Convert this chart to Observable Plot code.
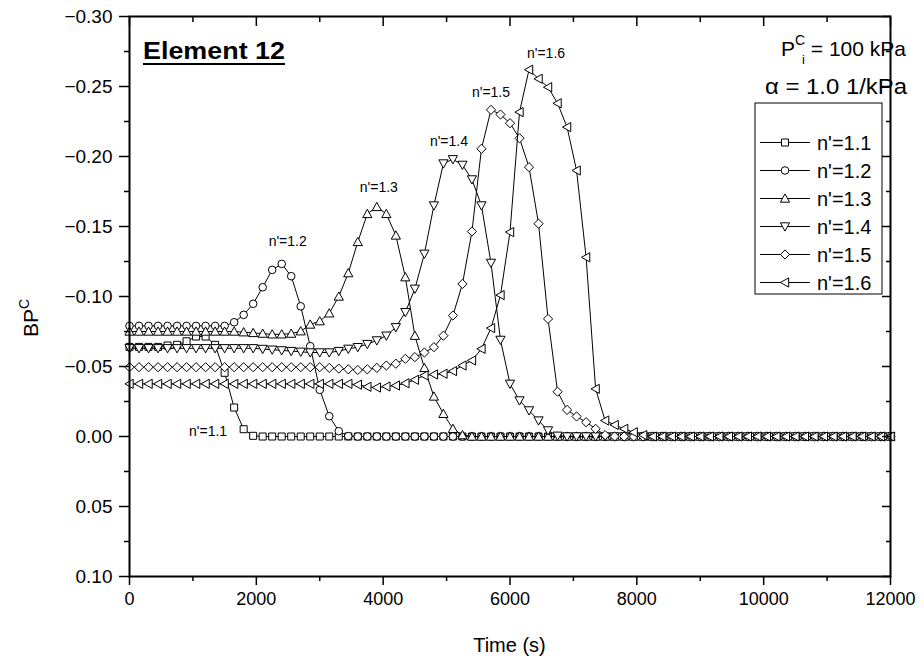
<!DOCTYPE html>
<html>
<head>
<meta charset="utf-8">
<script src="https://cdn.jsdelivr.net/npm/d3@7"></script>
<script src="https://cdn.jsdelivr.net/npm/@observablehq/plot@0.6"></script>
<style>
  body { margin: 0; background: #fff; }
  #chart { width: 924px; height: 668px; }
  svg { font-family: "Liberation Sans", Arial, Helvetica, sans-serif; }
</style>
</head>
<body>
<div id="chart"></div>
<script>
// Sampling grid of the simulation output (s)
const time = d3.range(0, 12001, 150);

const seriesNames = ["n'=1.1", "n'=1.2", "n'=1.3", "n'=1.4", "n'=1.5", "n'=1.6"];

// BP^C values for each n' (one value per time step)
const bp11 = [
  -0.064, -0.064, -0.064, -0.064, -0.065, -0.0655, -0.068, -0.0714, -0.0714, -0.0655,
  -0.0455, -0.0207, -0.0052, -0.0005, 0, 0, 0, 0, 0, 0,
  0, 0, 0, 0, 0, 0, 0, 0, 0, 0,
  0, 0, 0, 0, 0, 0, 0, 0, 0, 0,
  0, 0, 0, 0, 0, 0, 0, 0, 0, 0,
  0, 0, 0, 0, 0, 0, 0, 0, 0, 0,
  0, 0, 0, 0, 0, 0, 0, 0, 0, 0,
  0, 0, 0, 0, 0, 0, 0, 0, 0, 0,
  0
];
const bp12 = [
  -0.079, -0.079, -0.079, -0.079, -0.079, -0.079, -0.079, -0.079, -0.079, -0.079,
  -0.079, -0.0816, -0.0869, -0.0948, -0.1066, -0.119, -0.1233, -0.1145, -0.093, -0.0645,
  -0.0333, -0.0145, -0.0038, -0.0003, 0, 0, 0, 0, 0, 0,
  0, 0, 0, 0, 0, 0, 0, 0, 0, 0,
  0, 0, 0, 0, 0, 0, 0, 0, 0, 0,
  0, 0, 0, 0, 0, 0, 0, 0, 0, 0,
  0, 0, 0, 0, 0, 0, 0, 0, 0, 0,
  0, 0, 0, 0, 0, 0, 0, 0, 0, 0,
  0
];
const bp13 = [
  -0.075, -0.075, -0.075, -0.075, -0.075, -0.075, -0.075, -0.075, -0.075, -0.075,
  -0.075, -0.075, -0.0745, -0.074, -0.0735, -0.073, -0.073, -0.0735, -0.0752, -0.080,
  -0.0824, -0.088, -0.100, -0.1167, -0.139, -0.159, -0.164, -0.159, -0.1436, -0.1138,
  -0.072, -0.049, -0.0286, -0.0162, -0.0055, -0.001, 0, 0, 0, 0,
  0, 0, 0, 0, 0, 0, 0, 0, 0, 0,
  0, 0, 0, 0, 0, 0, 0, 0, 0, 0,
  0, 0, 0, 0, 0, 0, 0, 0, 0, 0,
  0, 0, 0, 0, 0, 0, 0, 0, 0, 0,
  0
];
const bp14 = [
  -0.063, -0.063, -0.063, -0.063, -0.063, -0.063, -0.063, -0.063, -0.063, -0.063,
  -0.063, -0.063, -0.063, -0.063, -0.0625, -0.062, -0.0615, -0.061, -0.0605, -0.060,
  -0.060, -0.060, -0.061, -0.0626, -0.0638, -0.066, -0.0686, -0.072, -0.078, -0.0888,
  -0.1055, -0.1305, -0.165, -0.195, -0.198, -0.194, -0.1836, -0.165, -0.124, -0.069,
  -0.0376, -0.0257, -0.0186, -0.0114, -0.0043, -0.0005, 0, 0, 0, 0,
  0, 0, 0, 0, 0, 0, 0, 0, 0, 0,
  0, 0, 0, 0, 0, 0, 0, 0, 0, 0,
  0, 0, 0, 0, 0, 0, 0, 0, 0, 0,
  0
];
const bp15 = [
  -0.0495, -0.0495, -0.0495, -0.0495, -0.0495, -0.0495, -0.0495, -0.0495, -0.0495, -0.0495,
  -0.0495, -0.0495, -0.0495, -0.0495, -0.0495, -0.0495, -0.0495, -0.0495, -0.0495, -0.0495,
  -0.0495, -0.049, -0.0485, -0.048, -0.0475, -0.048, -0.049, -0.0507, -0.052, -0.0555,
  -0.0567, -0.060, -0.0638, -0.072, -0.0864, -0.109, -0.1464, -0.2055, -0.2333, -0.230,
  -0.2238, -0.213, -0.1924, -0.152, -0.084, -0.032, -0.019, -0.0143, -0.0102, -0.0055,
  -0.001, 0, 0, 0, 0, 0, 0, 0, 0, 0,
  0, 0, 0, 0, 0, 0, 0, 0, 0, 0,
  0, 0, 0, 0, 0, 0, 0, 0, 0, 0,
  0
];
const bp16 = [
  -0.0376, -0.0376, -0.0376, -0.0376, -0.0376, -0.0376, -0.0376, -0.0376, -0.0376, -0.0376,
  -0.0376, -0.0376, -0.0376, -0.0376, -0.0376, -0.0376, -0.0376, -0.0376, -0.0376, -0.0376,
  -0.0376, -0.0376, -0.0376, -0.0376, -0.037, -0.0355, -0.035, -0.0357, -0.0364, -0.038,
  -0.0405, -0.0436, -0.0443, -0.0448, -0.0467, -0.0507, -0.0543, -0.0626, -0.0774, -0.101,
  -0.146, -0.2317, -0.262, -0.2555, -0.2495, -0.238, -0.221, -0.19, -0.128, -0.034,
  -0.0114, -0.0083, -0.0055, -0.003, -0.001, 0, 0, 0, 0, 0,
  0, 0, 0, 0, 0, 0, 0, 0, 0, 0,
  0, 0, 0, 0, 0, 0, 0, 0, 0, 0,
  0
];

// Axis ticks
const xTicks = [0, 2000, 4000, 6000, 8000, 10000, 12000];
const xMinorTicks = [1000, 3000, 5000, 7000, 9000, 11000];
const yTicks = [-0.30, -0.25, -0.20, -0.15, -0.10, -0.05, 0.00, 0.05, 0.10];
const yMinorTicks = [-0.275, -0.225, -0.175, -0.125, -0.075, -0.025, 0.025, 0.075];

// Open marker shapes (radius derived from the symbol area)
const rad = size => Math.sqrt(size / Math.PI);
const symSquare = { draw(c, s) { const r = rad(s); c.moveTo(-r, -r); c.lineTo(r, -r); c.lineTo(r, r); c.lineTo(-r, r); c.closePath(); } };
const symCircle = { draw(c, s) { const r = rad(s); c.moveTo(r, 0); c.arc(0, 0, r, 0, 2 * Math.PI); c.closePath(); } };
const symTriUp = { draw(c, s) { const r = rad(s); c.moveTo(0, -r); c.lineTo(r, r * 0.8); c.lineTo(-r, r * 0.8); c.closePath(); } };
const symTriDown = { draw(c, s) { const r = rad(s); c.moveTo(0, r); c.lineTo(r, -r * 0.8); c.lineTo(-r, -r * 0.8); c.closePath(); } };
const symDiamond = { draw(c, s) { const r = rad(s); c.moveTo(0, -r); c.lineTo(r, 0); c.lineTo(0, r); c.lineTo(-r, 0); c.closePath(); } };
const symTriLeft = { draw(c, s) { const r = rad(s); c.moveTo(-r, 0); c.lineTo(r * 0.8, -r); c.lineTo(r * 0.8, r); c.closePath(); } };

const series = [
  { name: seriesNames[0], values: bp11, symbol: symSquare, r: 3.5, label: { dx: -26, dy: -4, anchor: "end", at: "drop" } },
  { name: seriesNames[1], values: bp12, symbol: symCircle, r: 3.8, label: { dx: 6, dy: -22, anchor: "middle", at: "peak" } },
  { name: seriesNames[2], values: bp13, symbol: symTriUp, r: 4.6, label: { dx: 2, dy: -19, anchor: "middle", at: "peak" } },
  { name: seriesNames[3], values: bp14, symbol: symTriDown, r: 4.6, label: { dx: -4, dy: -18, anchor: "middle", at: "peak" } },
  { name: seriesNames[4], values: bp15, symbol: symDiamond, r: 4.6, label: { dx: 0, dy: -17, anchor: "middle", at: "peak" } },
  { name: seriesNames[5], values: bp16, symbol: symTriLeft, r: 4.6, label: { dx: 17, dy: -16, anchor: "middle", at: "peak" } }
];

const marks = [];
for (const s of series) {
  const data = time.map((t, i) => ({ t, v: s.values[i] }));
  marks.push(Plot.line(data, { x: "t", y: "v", stroke: "black", strokeWidth: 1 }));
  marks.push(Plot.dot(data, { x: "t", y: "v", symbol: s.symbol, r: s.r, fill: "white", stroke: "black", strokeWidth: 1 }));
}

// Curve labels, anchored to the peak (or to where n'=1.1 reaches zero)
for (const s of series) {
  let i;
  if (s.label.at === "peak") i = d3.minIndex(s.values);
  else i = s.values.findIndex(v => Math.abs(v) < 0.001);
  marks.push(Plot.text([{ t: time[i], v: s.values[i], name: s.name }], {
    x: "t", y: "v", text: "name", dx: s.label.dx, dy: s.label.dy,
    textAnchor: s.label.anchor, fontSize: 14, fill: "black"
  }));
}

const yFormat = d3.format(".2f");

const chart = Plot.plot({
  width: 924,
  height: 668,
  marginLeft: 129,
  marginRight: 34,
  marginTop: 16,
  marginBottom: 92,
  x: { domain: [0, 12000], label: null },
  y: { domain: [0.10, -0.30], label: null },
  style: { fontFamily: "'Liberation Sans', Arial, sans-serif", fontSize: "18px", color: "black", background: "white" },
  marks: [
    ...marks,
    // bottom: outward ticks with labels
    Plot.axisX({ anchor: "bottom", ticks: xTicks, tickSize: 9, tickPadding: 7, tickFormat: d => String(d), fontSize: 18, strokeWidth: 1.5, label: null }),
    Plot.axisX({ anchor: "bottom", ticks: xMinorTicks, tickSize: 5, tickFormat: () => "", strokeWidth: 1.5, label: null }),
    // top: inward ticks
    Plot.axisX({ anchor: "top", ticks: xTicks, tickSize: 9, dy: 9, tickFormat: () => "", strokeWidth: 1.5, label: null }),
    Plot.axisX({ anchor: "top", ticks: xMinorTicks, tickSize: 5, dy: 5, tickFormat: () => "", strokeWidth: 1.5, label: null }),
    // left: outward ticks with labels
    Plot.axisY({ anchor: "left", ticks: yTicks, tickSize: 10, tickPadding: 7, tickFormat: yFormat, fontSize: 19, strokeWidth: 1.5, label: null }),
    Plot.axisY({ anchor: "left", ticks: yMinorTicks, tickSize: 5, tickFormat: () => "", strokeWidth: 1.5, label: null }),
    // right: inward ticks
    Plot.axisY({ anchor: "right", ticks: yTicks, tickSize: 9, dx: -9, tickFormat: () => "", strokeWidth: 1.5, label: null }),
    Plot.axisY({ anchor: "right", ticks: yMinorTicks, tickSize: 5, dx: -5, tickFormat: () => "", strokeWidth: 1.5, label: null }),
    Plot.frame({ stroke: "black", strokeWidth: 2 })
  ]
});

document.getElementById("chart").appendChild(chart);

// Annotations, axis titles and the legend box
const svg = d3.select(chart);
const [X0, X1] = chart.scale("x").range;
const [Ybot, Ytop] = chart.scale("y").range;
const font = "'Liberation Sans', Arial, sans-serif";

// "Element 12" tag with underline
const tag = svg.append("text")
  .attr("x", X0 + 14).attr("y", Ytop + 43)
  .attr("text-anchor", "start")
  .attr("font-family", font).attr("font-size", 23).attr("font-weight", "bold")
  .attr("textLength", 142).attr("lengthAdjust", "spacingAndGlyphs")
  .text("Element 12");
svg.append("line")
  .attr("x1", X0 + 14).attr("x2", X0 + 156)
  .attr("y1", Ytop + 48).attr("y2", Ytop + 48)
  .attr("stroke", "black").attr("stroke-width", 2);

// Parameter block, top right
const p1 = svg.append("text")
  .attr("x", X1 + 16).attr("y", Ytop + 40)
  .attr("text-anchor", "end")
  .attr("font-family", font).attr("font-size", 21);
p1.append("tspan").text("P");
p1.append("tspan").attr("dy", -11).attr("font-size", 14).text("C");
p1.append("tspan").attr("dy", 19).attr("dx", -3).attr("font-size", 13).text("i");
p1.append("tspan").attr("dy", -8).text(" = 100 kPa");

svg.append("text")
  .attr("x", X1 + 17).attr("y", Ytop + 78)
  .attr("text-anchor", "end")
  .attr("font-family", font).attr("font-size", 22)
  .attr("textLength", 142).attr("lengthAdjust", "spacingAndGlyphs")
  .text("\u03B1 = 1.0 1/kPa");

// Axis titles
svg.append("text")
  .attr("x", (X0 + X1) / 2).attr("y", Ybot + 76)
  .attr("text-anchor", "middle")
  .attr("font-family", font).attr("font-size", 20)
  .text("Time (s)");

const yl = svg.append("text")
  .attr("transform", `translate(${X0 - 91},${(Ytop + Ybot) / 2 + 22}) rotate(-90)`)
  .attr("text-anchor", "middle")
  .attr("font-family", font).attr("font-size", 21);
yl.append("tspan").text("BP");
yl.append("tspan").attr("dy", -9).attr("font-size", 14).text("C");

// Legend
const lg = svg.append("g");
const lgRight = X1 - 8, lgLeft = X1 - 135, lgTop = Ytop + 87, lgBottom = Ytop + 278;
lg.append("rect")
  .attr("x", lgLeft).attr("y", lgTop)
  .attr("width", lgRight - lgLeft).attr("height", lgBottom - lgTop)
  .attr("fill", "white").attr("stroke", "black").attr("stroke-width", 1);
series.forEach((s, k) => {
  const cy = lgTop + 39.5 + 28 * k;
  lg.append("line")
    .attr("x1", lgLeft + 5).attr("x2", lgLeft + 55)
    .attr("y1", cy).attr("y2", cy)
    .attr("stroke", "black").attr("stroke-width", 1);
  lg.append("path")
    .attr("transform", `translate(${lgLeft + 30},${cy})`)
    .attr("d", d3.symbol(s.symbol, s.r * s.r * Math.PI)())
    .attr("fill", "white").attr("stroke", "black").attr("stroke-width", 1);
  lg.append("text")
    .attr("x", lgLeft + 62).attr("y", cy + 7)
    .attr("text-anchor", "start")
    .attr("font-family", font).attr("font-size", 20)
    .text(s.name);
});
</script>
</body>
</html>
